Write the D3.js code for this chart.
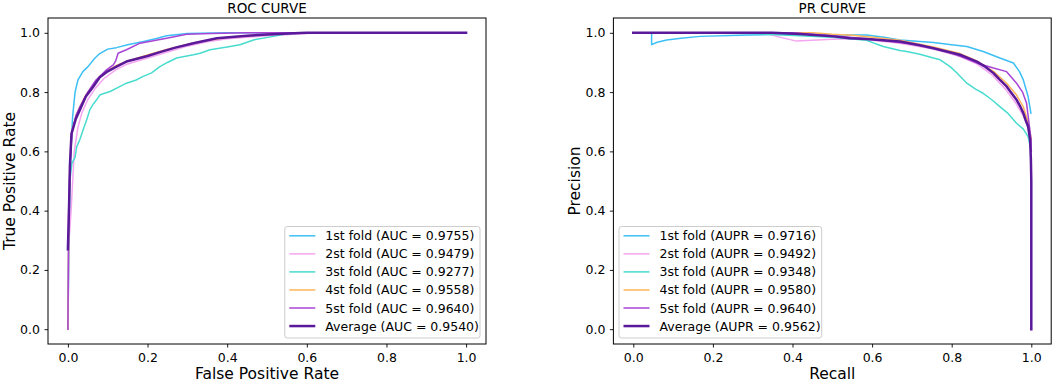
<!DOCTYPE html>
<html><head><meta charset="utf-8">
<script src="https://cdn.jsdelivr.net/npm/d3@7"></script>
<style>body{margin:0;background:#fff}svg{display:block}text{font-family:"DejaVu Sans",sans-serif;fill:#000}</style>
</head><body><svg id="c" width="1052" height="382"></svg>
<script>
const tickValues = [0.0, 0.2, 0.4, 0.6, 0.8, 1.0];
const foldNames = ["1st fold", "2st fold", "3st fold", "4st fold", "5st fold", "Average"];
const aucValues = ["0.9755", "0.9479", "0.9277", "0.9558", "0.9640", "0.9540"];
const auprValues = ["0.9716", "0.9492", "0.9348", "0.9580", "0.9640", "0.9562"];
const colors = ["#3dbff5", "#f4a6f0", "#48dccf", "#ffb55a", "#a845d6", "#5a189a"];

const rocFold1 = [[0,0],[0.003,0.35],[0.005,0.5],[0.0075,0.6],[0.012,0.72],[0.018,0.8],[0.025,0.84],[0.038,0.87],[0.05,0.885],[0.068,0.915],[0.08,0.93],[0.1,0.945],[0.122,0.95],[0.15,0.96],[0.19,0.971],[0.22,0.98],[0.248,0.99],[0.3,0.998],[0.4,1],[1,1]];
const rocFold2 = [[0,0],[0.003,0.3],[0.008,0.4],[0.012,0.5],[0.016,0.6],[0.025,0.68],[0.035,0.73],[0.05,0.775],[0.07,0.815],[0.09,0.845],[0.12,0.875],[0.15,0.895],[0.2,0.915],[0.25,0.935],[0.3,0.955],[0.35,0.97],[0.4,0.98],[0.5,0.99],[0.6,0.998],[0.65,1],[1,1]];
const rocFold3 = [[0,0],[0.002,0.3],[0.005,0.5],[0.01,0.56],[0.018,0.58],[0.022,0.615],[0.03,0.64],[0.04,0.68],[0.047,0.706],[0.055,0.74],[0.064,0.76],[0.072,0.774],[0.08,0.79],[0.09,0.795],[0.106,0.802],[0.125,0.815],[0.147,0.83],[0.17,0.84],[0.189,0.853],[0.21,0.865],[0.231,0.886],[0.25,0.9],[0.273,0.915],[0.315,0.926],[0.332,0.931],[0.357,0.943],[0.4,0.952],[0.432,0.96],[0.466,0.976],[0.516,0.988],[0.55,0.997],[0.6,1],[1,1]];
const rocFold4 = [[0,0],[0.002,0.35],[0.005,0.55],[0.008,0.65],[0.012,0.68],[0.02,0.72],[0.03,0.75],[0.045,0.79],[0.064,0.825],[0.08,0.853],[0.1,0.872],[0.122,0.89],[0.15,0.905],[0.2,0.925],[0.25,0.945],[0.281,0.955],[0.33,0.97],[0.4,0.985],[0.5,0.995],[0.55,1],[1,1]];
const rocFold5 = [[0,0],[0.002,0.4],[0.005,0.55],[0.01,0.66],[0.02,0.72],[0.03,0.75],[0.05,0.8],[0.07,0.84],[0.097,0.875],[0.114,0.892],[0.12,0.905],[0.126,0.931],[0.147,0.943],[0.181,0.965],[0.248,0.982],[0.298,0.995],[0.36,0.998],[0.45,1],[1,1]];
const rocAverage = [[0,0.27],[0.003,0.42],[0.005,0.55],[0.009,0.66],[0.02,0.71],[0.03,0.74],[0.045,0.785],[0.064,0.819],[0.08,0.85],[0.1,0.87],[0.122,0.886],[0.147,0.903],[0.164,0.909],[0.2,0.922],[0.231,0.935],[0.27,0.95],[0.315,0.965],[0.374,0.982],[0.45,0.99],[0.5,0.994],[0.583,0.999],[0.6,1],[1,1]];

const prFold1 = [[0,1],[0.046,1],[0.046,0.96],[0.06,0.968],[0.084,0.976],[0.12,0.982],[0.168,0.988],[0.293,0.993],[0.4,0.995],[0.503,0.993],[0.586,0.993],[0.63,0.985],[0.67,0.976],[0.754,0.967],[0.8,0.96],[0.838,0.954],[0.879,0.937],[0.921,0.915],[0.955,0.898],[0.97,0.87],[0.98,0.841],[0.992,0.785],[0.999,0.729]];
const prFold2 = [[0,1],[0.33,1],[0.36,0.988],[0.41,0.972],[0.45,0.975],[0.5,0.978],[0.55,0.98],[0.6,0.975],[0.67,0.965],[0.754,0.945],[0.821,0.92],[0.863,0.895],[0.9,0.86],[0.935,0.81],[0.96,0.765],[0.98,0.72],[0.992,0.68],[1,0.63]];
const prFold3 = [[0,1],[0.3,0.998],[0.418,0.99],[0.5,0.985],[0.586,0.975],[0.611,0.962],[0.628,0.954],[0.67,0.94],[0.687,0.937],[0.72,0.928],[0.754,0.915],[0.771,0.909],[0.796,0.886],[0.812,0.866],[0.838,0.83],[0.86,0.81],[0.879,0.796],[0.9,0.775],[0.921,0.751],[0.94,0.73],[0.963,0.695],[0.98,0.675],[0.992,0.65],[1,0.6]];
const prFold4 = [[0,1],[0.45,1],[0.5,0.995],[0.55,0.992],[0.6,0.985],[0.67,0.975],[0.754,0.952],[0.821,0.93],[0.863,0.905],[0.905,0.87],[0.938,0.83],[0.963,0.79],[0.98,0.75],[0.992,0.7],[1,0.64]];
const prFold5 = [[0,1],[0.4,1],[0.5,0.99],[0.6,0.978],[0.7,0.962],[0.75,0.95],[0.8,0.932],[0.838,0.912],[0.87,0.895],[0.905,0.881],[0.938,0.869],[0.963,0.83],[0.978,0.8],[0.988,0.763],[0.999,0.644],[1,0.6]];
const prAverage = [[0,1],[0.35,1],[0.418,0.996],[0.503,0.988],[0.544,0.982],[0.586,0.979],[0.67,0.971],[0.72,0.958],[0.754,0.948],[0.79,0.936],[0.821,0.926],[0.845,0.913],[0.863,0.903],[0.885,0.885],[0.905,0.864],[0.92,0.843],[0.938,0.819],[0.95,0.797],[0.963,0.774],[0.972,0.752],[0.98,0.729],[0.986,0.705],[0.992,0.684],[0.997,0.639],[0.999,0.571],[1,0.5],[1,0]];

const svg = d3.select("#c");

function panel(cfg) {
  const x = d3.scaleLinear().domain([-0.05, 1.05]).range([cfg.left, cfg.right]);
  const y = d3.scaleLinear().domain([-0.05, 1.05]).range([cfg.bottom, cfg.top]);
  const g = svg.append("g");
  const fmt = d3.format(".1f");
  const xa = g.append("g").attr("transform", `translate(0,${cfg.bottom})`)
    .call(d3.axisBottom(x).tickValues(tickValues).tickFormat(fmt).tickSize(3.5).tickPadding(5.5));
  const ya = g.append("g").attr("transform", `translate(${cfg.left},0)`)
    .call(d3.axisLeft(y).tickValues(tickValues).tickFormat(fmt).tickSize(3.5).tickPadding(4.5));
  [xa, ya].forEach(a => {
    a.select(".domain").remove();
    a.selectAll("line").attr("stroke", "#000").attr("stroke-width", 0.9);
    a.selectAll("text").style("font-size", "12.5px").style("font-family", "DejaVu Sans").attr("fill", "#000");
  });
  const line = d3.line().x(d => x(d[0])).y(d => y(d[1]));
  cfg.series.forEach((s, i) => {
    g.append("path").attr("d", line(s)).attr("fill", "none")
      .attr("stroke", colors[i]).attr("stroke-width", i === 5 ? 2.5 : 1.5)
      .attr("stroke-linejoin", "round").attr("stroke-linecap", "square");
  });
  g.append("rect").attr("x", cfg.left).attr("y", cfg.top)
    .attr("width", cfg.right - cfg.left).attr("height", cfg.bottom - cfg.top)
    .attr("fill", "none").attr("stroke", "#000").attr("stroke-width", 1);
  g.append("text").attr("x", (cfg.left + cfg.right) / 2).attr("y", 13)
    .attr("text-anchor", "middle").style("font-size", "13.5px").text(cfg.title);
  g.append("text").attr("x", (cfg.left + cfg.right) / 2).attr("y", 379)
    .attr("text-anchor", "middle").style("font-size", "15.5px").text(cfg.xlabel);
  g.append("text").attr("transform", `translate(${cfg.ylabelX},${(cfg.top + cfg.bottom) / 2}) rotate(-90)`)
    .attr("text-anchor", "middle").style("font-size", "15.5px").text(cfg.ylabel);
  // legend
  const L = cfg.legend;
  const lg = g.append("g");
  lg.append("rect").attr("x", L.x).attr("y", L.y).attr("width", L.w).attr("height", L.h)
    .attr("rx", 2.5).attr("fill", "#fff").attr("fill-opacity", 0.8).attr("stroke", "#cccccc").attr("stroke-width", 1);
  foldNames.forEach((n, i) => {
    const yy = L.y + 9.3 + i * 18.05;
    lg.append("line").attr("x1", L.x + 4.5).attr("x2", L.x + 30.5).attr("y1", yy).attr("y2", yy)
      .attr("stroke", colors[i]).attr("stroke-width", i === 5 ? 2.5 : 1.5);
    lg.append("text").attr("x", L.x + 40.5).attr("y", yy + 4.5).style("font-size", "12.5px")
      .text(`${n} (${cfg.metric} = ${cfg.values[i]})`);
  });
}

panel({left: 48, right: 486, top: 18, bottom: 344, title: "ROC CURVE",
  xlabel: "False Positive Rate", ylabel: "True Positive Rate", ylabelX: 15,
  series: [rocFold1, rocFold2, rocFold3, rocFold4, rocFold5, rocAverage],
  metric: "AUC", values: aucValues, legend: {x: 284.8, y: 226.5, w: 195.2, h: 111.5}});
panel({left: 613.4, right: 1051.2, top: 18, bottom: 344, title: "PR CURVE",
  xlabel: "Recall", ylabel: "Precision", ylabelX: 580,
  series: [prFold1, prFold2, prFold3, prFold4, prFold5, prAverage],
  metric: "AUPR", values: auprValues, legend: {x: 619, y: 226.5, w: 202.7, h: 111.5}});
</script></body></html>
